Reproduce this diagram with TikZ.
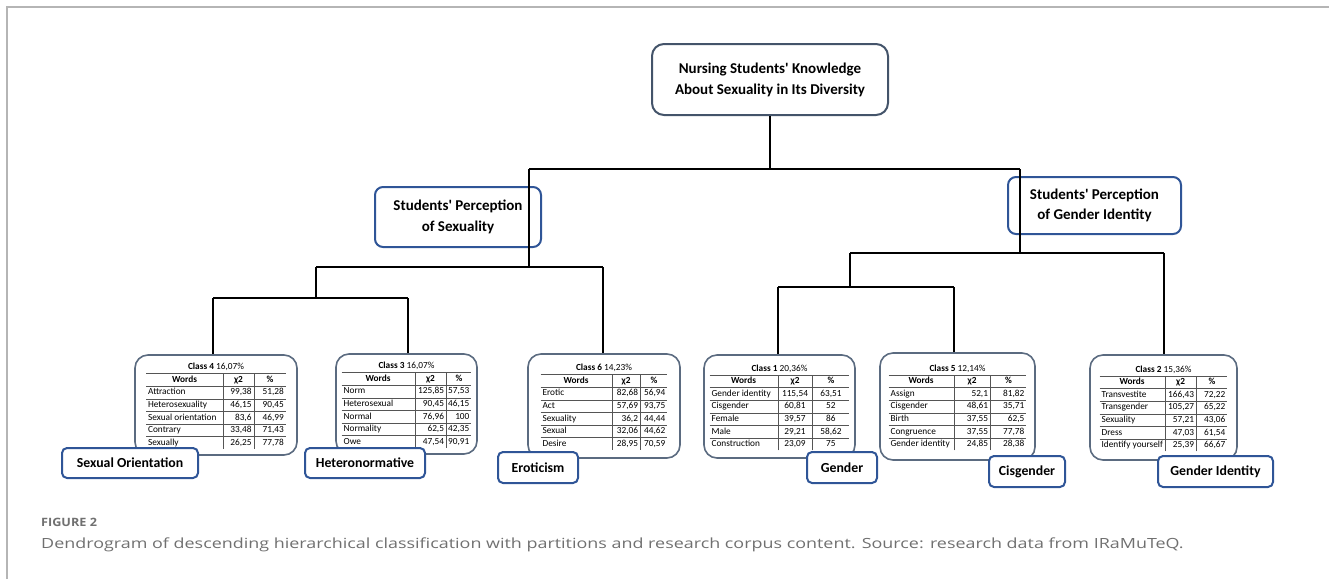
\documentclass[tikz,border=0pt]{standalone}
\usepackage{fontspec}
\setmainfont{Carlito}[Ligatures=TeXOff]
\newfontfamily\capfont[FakeStretch=1.28]{Open Sans}
\newfontfamily\figfont[FakeStretch=1.1]{Open Sans}
\usepackage{array,colortbl}
\definecolor{rootc}{HTML}{44546A}
\definecolor{bluec}{HTML}{2F5597}
\definecolor{boxc}{HTML}{5B6B80}
\definecolor{rulec}{HTML}{555555}
\definecolor{framec}{HTML}{B5B5B5}
\definecolor{capc}{HTML}{707070}
\newcommand{\ctab}[6]{{\fontsize{9.3}{10}\selectfont\setlength{\tabcolsep}{2pt}\renewcommand{\arraystretch}{1.22}\arrayrulecolor{rulec}%
\begin{tabular}{w{l}{#1}|w{#4}{#2}|w{#4}{#3}}
\multicolumn{3}{c}{#5}\\\hline
\multicolumn{1}{c|}{\textbf{Words}}&\multicolumn{1}{c|}{\textbf{χ2}}&\multicolumn{1}{c}{\textbf{\%}}\\\hline
#6
\end{tabular}}}
\tikzset{
  link/.style={draw=black, line width=2pt},
  rootbox/.style={draw=rootc, line width=2pt, rounded corners=12pt, align=center, inner sep=0pt,
    font=\bfseries\fontsize{15}{21}\selectfont},
  persbox/.style={draw=bluec, line width=2pt, rounded corners=8pt, align=center, inner sep=0pt,
    font=\bfseries\fontsize{15}{20.5}\selectfont},
  cbox/.style={draw=boxc, line width=1.6pt, rounded corners=13pt, inner sep=0pt, fill=white},
  lbox/.style={draw=bluec, line width=2pt, rounded corners=5pt, inner sep=0pt, fill=white,
    font=\bfseries\fontsize{13.8}{16}\selectfont},
}
\begin{document}
\begin{tikzpicture}[x=1pt,y=-1pt]
\useasboundingbox (0,0) rectangle (1329,579);
% frame
\draw[framec, line width=2pt] (7,579) -- (7,7) -- (1329,7);
% top-level boxes
\node[rootbox, minimum width=236, minimum height=71] (root) at (770,79.5)
  {Nursing Students' Knowledge\\About Sexuality in Its Diversity};
\node[persbox, minimum width=166, minimum height=60] (sp) at (458,217)
  {Students' Perception\\of Sexuality};
\node[persbox, minimum width=173, minimum height=57] (gp) at (1094.5,205.5)
  {Students' Perception\\of Gender Identity};
% class boxes
\node[cbox, minimum width=162, minimum height=100] (c4) at (216,405)
  {\ctab{73pt}{26pt}{28pt}{r}{\textbf{Class 4} 16,07\%}{%
  Attraction & 99,38 & 51,28\\\hline
  Heterosexuality & 46,15 & 90,45\\\hline
  Sexual orientation & 83,6 & 46,99\\\hline
  Contrary & 33,48 & 71,43\\\hline
  Sexually & 26,25 & 77,78\\}};
\node[cbox, minimum width=141, minimum height=100] (c3) at (406.5,404)
  {\ctab{69pt}{27pt}{21pt}{r}{\textbf{Class 3} 16,07\%}{%
  Norm & 125,85 & 57,53\\\hline
  Heterosexual & 90,45 & 46,15\\\hline
  Normal & 76,96 & 100\\\hline
  Normality & 62,5 & 42,35\\\hline
  Owe & 47,54 & 90,91\\}};
\node[cbox, minimum width=152, minimum height=104] (c6) at (604,406)
  {\ctab{67pt}{24pt}{23pt}{r}{\textbf{Class 6} 14,23\%}{%
  Erotic & 82,68 & 56,94\\\hline
  Act & 57,69 & 93,75\\\hline
  Sexuality & 36,2 & 44,44\\\hline
  Sexual & 32,06 & 44,62\\\hline
  Desire & 28,95 & 70,59\\}};
\node[cbox, minimum width=151, minimum height=103] (c1) at (779.5,406.5)
  {\ctab{64pt}{30pt}{33pt}{c}{\textbf{Class 1} 20,36\%}{%
  Gender identity & 115,54 & 63,51\\\hline
  Cisgender & 60,81 & 52\\\hline
  Female & 39,57 & 86\\\hline
  Male & 29,21 & 58,62\\\hline
  Construction & 23,09 & 75\\}};
\node[cbox, minimum width=155, minimum height=107] (c5) at (957.5,406.5)
  {\ctab{61pt}{32pt}{32pt}{r}{\textbf{Class 5} 12,14\%}{%
  Assign & 52,1 & 81,82\\\hline
  Cisgender & 48,61 & 35,71\\\hline
  Birth & 37,55 & 62,5\\\hline
  Congruence & 37,55 & 77,78\\\hline
  Gender identity & 24,85 & 28,38\\}};
\node[cbox, minimum width=147, minimum height=105] (c2) at (1163.5,407.5)
  {\ctab{61pt}{27pt}{27pt}{r}{\textbf{Class 2} 15,36\%}{%
  Transvestite & 166,43 & 72,22\\\hline
  Transgender & 105,27 & 65,22\\\hline
  Sexuality & 57,21 & 43,06\\\hline
  Dress & 47,03 & 61,54\\\hline
  Identify yourself & 25,39 & 66,67\\}};
% class labels
\node[lbox, minimum width=136, minimum height=30] (l4) at (130,463) {Sexual Orientation};
\node[lbox, minimum width=120, minimum height=30] (l3) at (365,463) {Heteronormative};
\node[lbox, minimum width=80, minimum height=31] (l6) at (538,467.5) {Eroticism};
\node[lbox, minimum width=70, minimum height=31] (l1) at (842,467.5) {Gender};
\node[lbox, minimum width=76, minimum height=31] (l5) at (1027,471.5) {Cisgender};
\node[lbox, minimum width=115, minimum height=31] (l2) at (1215.5,471.5) {Gender Identity};
% junction coordinates
\coordinate (bL) at (529,169);
\coordinate (bR) at (1020,169);
\coordinate (sL) at (316,267);
\coordinate (sR) at (603,267);
\coordinate (gL) at (850,253);
\coordinate (gR) at (1164,253);
\coordinate (k4) at (213,298);
\coordinate (k3) at (408,298);
\coordinate (k1) at (778,287);
\coordinate (k5) at (954,287);
% dendrogram
\draw[link] (root.south) -- (root.south |- bL);
\draw[link] (bL) -- (bR);
\draw[link] (bL) -- (bL |- sL);
\draw[link] (sL) -- (sR);
\draw[link] (sL) -- (sL |- k4);
\draw[link] (k4) -- (k3);
\draw[link] (k4) -- (k4 |- c4.north);
\draw[link] (k3) -- (k3 |- c3.north);
\draw[link] (sR) -- (sR |- c6.north);
\draw[link] (bR) -- (bR |- gL);
\draw[link] (gL) -- (gR);
\draw[link] (gL) -- (gL |- k1);
\draw[link] (k1) -- (k5);
\draw[link] (k1) -- (k1 |- c1.north);
\draw[link] (k5) -- (k5 |- c5.north);
\draw[link] (gR) -- (gR |- c2.north);
% caption
\node[anchor=west, inner sep=0pt, text=capc, font=\figfont\bfseries\fontsize{11.5}{13}\selectfont] (fig) at (41,522) {FIGURE 2};
\node[anchor=west, inner sep=0pt, text=capc, font=\capfont\fontsize{14}{17}\selectfont] (cap) at (41,545)
  {Dendrogram of descending hierarchical classification with partitions and research corpus content. Source: research data from IRaMuTeQ.};
\end{tikzpicture}
\end{document}
